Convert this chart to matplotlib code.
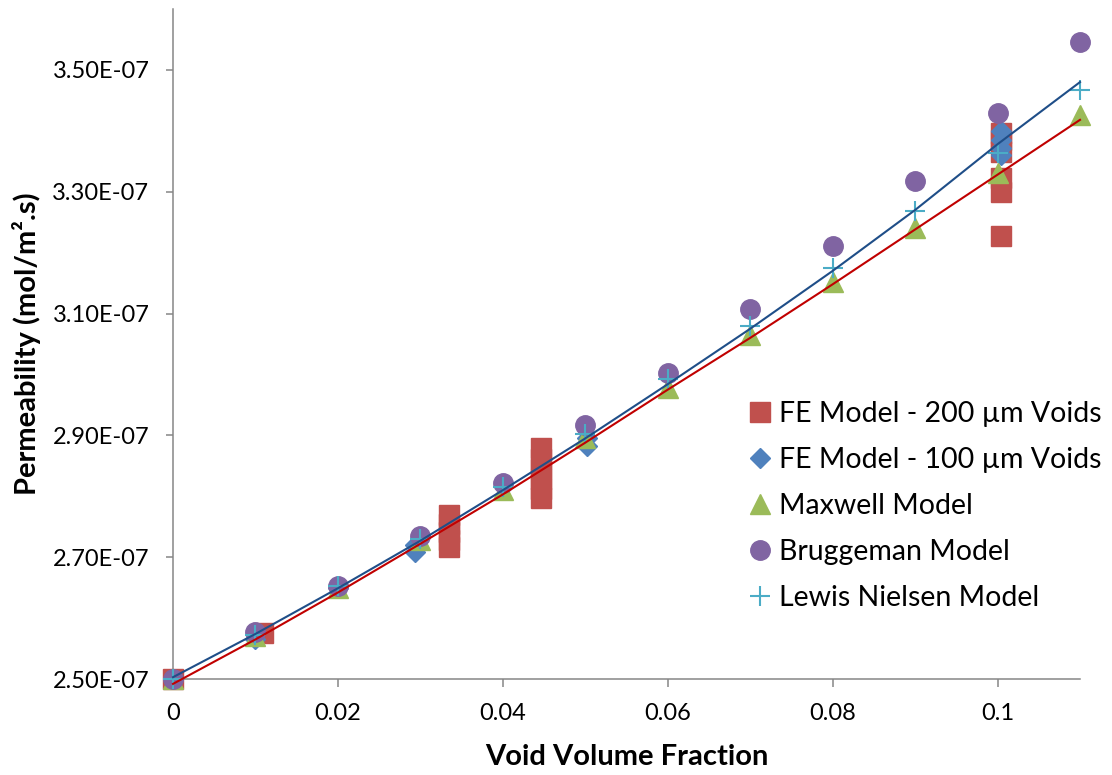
import numpy as np
import matplotlib
matplotlib.use('Agg')
import matplotlib.pyplot as plt
from matplotlib.ticker import FuncFormatter

plt.rcParams['font.family'] = ['Lato', 'DejaVu Sans']

# FE model, 200 um voids
fe200_x = [0.0, 0.0109, 0.0335, 0.0335, 0.0335, 0.0335, 0.0335,
           0.0446, 0.0446, 0.0446, 0.0446, 0.0446, 0.0446,
           0.1004, 0.1004, 0.1004, 0.1004, 0.1004, 0.1004]
fe200_y = [2.500, 2.575, 2.716, 2.728, 2.742, 2.755, 2.769,
           2.797, 2.812, 2.828, 2.845, 2.862, 2.879,
           3.228, 3.300, 3.323, 3.366, 3.385, 3.397]

# FE model, 100 um voids
fe100_x = [0.0, 0.0099, 0.02, 0.0293, 0.0293, 0.0502, 0.0502,
           0.1004, 0.1004, 0.1004, 0.1004]
fe100_y = [2.500, 2.566, 2.650, 2.708, 2.720, 2.883, 2.895,
           3.360, 3.372, 3.385, 3.400]

model_x = [0.0, 0.01, 0.02, 0.03, 0.04, 0.05, 0.06, 0.07, 0.08, 0.09, 0.1, 0.11]
maxwell_y = [2.500, 2.570, 2.650, 2.728, 2.811, 2.895, 2.978, 3.064,
             3.152, 3.241, 3.331, 3.426]
bruggeman_y = [2.500, 2.577, 2.653, 2.734, 2.821, 2.917, 3.002, 3.108,
               3.211, 3.318, 3.430, 3.546]
lewis_y = [2.500, 2.573, 2.652, 2.730, 2.815, 2.902, 2.992, 3.080,
           3.174, 3.269, 3.364, 3.467]

# trendlines
trend_x = [0.0, 0.01, 0.02, 0.03, 0.04, 0.05, 0.06, 0.07, 0.08, 0.09, 0.1, 0.11]
trend_red = [2.492, 2.565, 2.642, 2.722, 2.803, 2.888, 2.975, 3.060,
             3.148, 3.238, 3.328, 3.418]
trend_blue = [2.503, 2.574, 2.649, 2.727, 2.810, 2.895, 2.984, 3.075,
              3.170, 3.270, 3.378, 3.480]

scale = 1e-7

fig = plt.figure(figsize=(11.12, 7.75), dpi=100)
ax = fig.add_axes([173 / 1112, 1 - 679 / 775, 907 / 1112, 670 / 775])

kw = dict(linestyle='none', clip_on=False)
ax.plot(fe200_x, np.array(fe200_y) * scale, marker='s', ms=14, color='#C0504D',
        label='FE Model - 200 µm Voids', zorder=3, **kw)
ax.plot(fe100_x, np.array(fe100_y) * scale, marker='D', ms=10, color='#4F81BD',
        label='FE Model - 100 µm Voids', zorder=4, **kw)
ax.plot(model_x, np.array(maxwell_y) * scale, marker='^', ms=14, color='#9BBB59',
        label='Maxwell Model', zorder=5, **kw)
ax.plot(model_x, np.array(bruggeman_y) * scale, marker='o', ms=14, color='#8064A2',
        label='Bruggeman Model', zorder=6, **kw)
ax.plot(model_x, np.array(lewis_y) * scale, marker='+', ms=14, mew=1.5,
        color='#4BACC6', label='Lewis Nielsen Model', zorder=7, **kw)

ax.plot(trend_x, np.array(trend_red) * scale, color='#C00000', lw=1.5, zorder=8,
        clip_on=False)
ax.plot(trend_x, np.array(trend_blue) * scale, color='#1F4E88', lw=1.5, zorder=8,
        clip_on=False)

ax.set_xlim(0, 0.11)
ax.set_ylim(2.5e-7, 3.6e-7)
ax.set_xticks([0, 0.02, 0.04, 0.06, 0.08, 0.1])
ax.set_xticklabels(['0', '0.02', '0.04', '0.06', '0.08', '0.1'])
ax.set_yticks(np.array([2.5, 2.7, 2.9, 3.1, 3.3, 3.5]) * scale)
ax.yaxis.set_major_formatter(FuncFormatter(lambda v, p: f"{v / scale:.2f}E-07"))

for s in ['top', 'right']:
    ax.spines[s].set_visible(False)
for s in ['left', 'bottom']:
    ax.spines[s].set_color('#868686')
    ax.spines[s].set_linewidth(1.1)
ax.tick_params(axis='both', colors='#868686', labelcolor='black', labelsize=17,
               width=1.1)
ax.tick_params(axis='x', length=6, pad=11)
ax.tick_params(axis='y', length=5, pad=12)

ax.set_xlabel('Void Volume Fraction', fontsize=21, fontweight='bold', va='center')
ax.xaxis.set_label_coords(0.5, (679 - 757) / 670)
ax.set_ylabel('Permeability (mol/m².s)', fontsize=21, fontweight='bold', va='center')
ax.yaxis.set_label_coords((27 - 173) / 907, 0.5)

handles, labels = ax.get_legend_handles_labels()
ax.legend(handles[:5], labels[:5], loc='upper left',
          bbox_to_anchor=(749 / 1112, 1 - 401 / 775), bbox_transform=fig.transFigure,
          frameon=False, fontsize=20.5, borderpad=0, borderaxespad=0,
          handlelength=0.75, handletextpad=0.3, labelspacing=0.7)

fig.savefig('out.png', dpi=100)
